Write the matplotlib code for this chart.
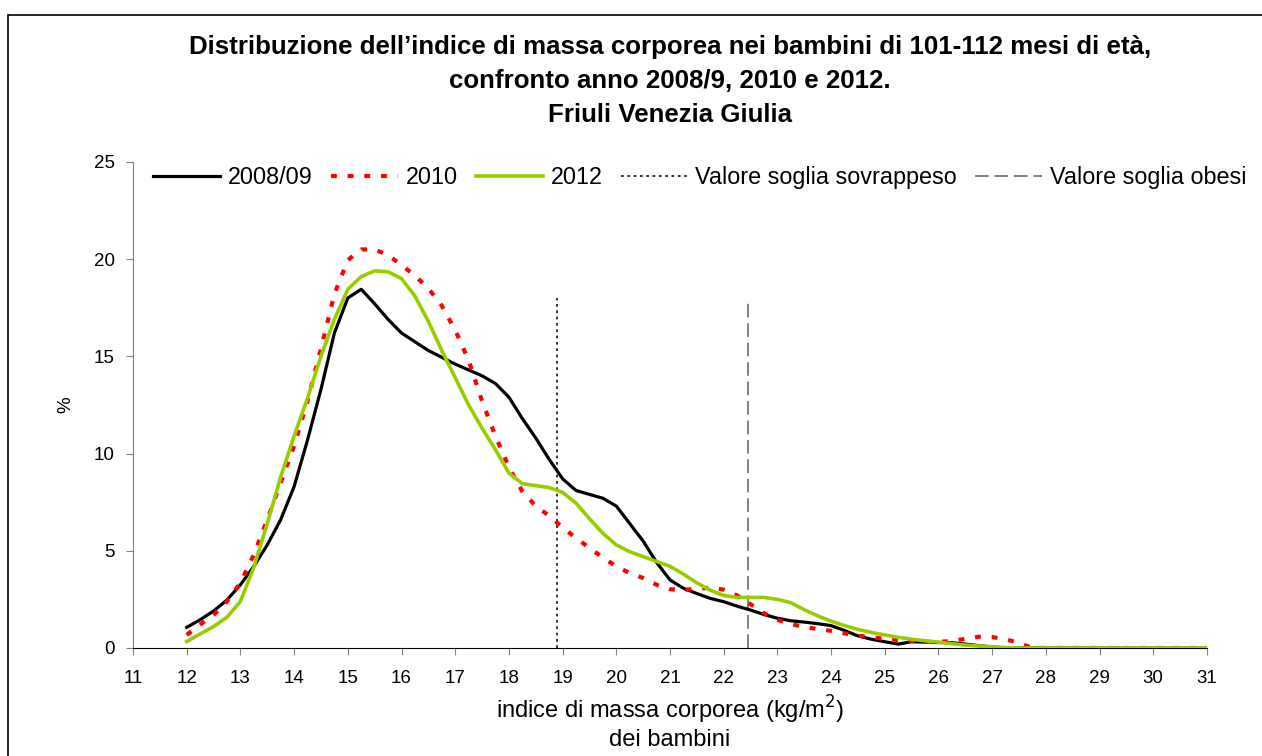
import matplotlib
matplotlib.use("Agg")
import matplotlib.pyplot as plt
from matplotlib.patches import Rectangle

plt.rcParams['font.family'] = ['Liberation Sans', 'DejaVu Sans']

# BMI classes (kg/m2), step 0.25 up to 27.75 then the flat tail
bmi = [12.0, 12.25, 12.5, 12.75, 13.0, 13.25, 13.5, 13.75, 14.0, 14.25, 14.5, 14.75,
       15.0, 15.25, 15.5, 15.75, 16.0, 16.25, 16.5, 16.75, 17.0, 17.25, 17.5, 17.75,
       18.0, 18.25, 18.5, 18.75, 19.0, 19.25, 19.5, 19.75, 20.0, 20.25, 20.5, 20.75,
       21.0, 21.25, 21.5, 21.75, 22.0, 22.25, 22.5, 22.75, 23.0, 23.25, 23.5, 23.75,
       24.0, 24.25, 24.5, 24.75, 25.0, 25.25, 25.5, 25.75, 26.0, 26.25, 26.5, 26.75,
       27.0, 27.25, 27.5, 27.75, 28.0, 29.0, 30.0, 31.0]

y2008 = [1.06, 1.45, 1.9, 2.47, 3.25, 4.2, 5.3, 6.6, 8.3, 10.7, 13.3, 16.2,
         18.0, 18.45, 17.7, 16.9, 16.2, 15.75, 15.3, 14.95, 14.6, 14.3, 14.0, 13.6,
         12.9, 11.8, 10.8, 9.7, 8.7, 8.1, 7.9, 7.7, 7.3, 6.4, 5.5, 4.4,
         3.5, 3.07, 2.8, 2.55, 2.38, 2.15, 1.95, 1.72, 1.53, 1.4, 1.33, 1.25,
         1.15, 0.9, 0.62, 0.45, 0.32, 0.2, 0.32, 0.3, 0.28, 0.27, 0.2, 0.12,
         0.05, 0.0, 0.0, 0.0, 0.0, 0.0, 0.0, 0.0]

y2010 = [0.67, 1.2, 1.7, 2.4, 3.35, 4.8, 6.6, 8.5, 10.4, 12.7, 15.4, 18.2,
         19.95, 20.5, 20.5, 20.2, 19.7, 19.15, 18.5, 17.6, 16.35, 14.8, 12.7, 10.9,
         9.3, 8.05, 7.3, 6.8, 6.2, 5.65, 5.15, 4.65, 4.2, 3.85, 3.6, 3.25,
         3.02, 2.98, 3.05, 3.1, 3.0, 2.7, 2.25, 1.78, 1.45, 1.23, 1.08, 0.97,
         0.88, 0.75, 0.63, 0.55, 0.47, 0.41, 0.36, 0.31, 0.31, 0.36, 0.47, 0.58,
         0.56, 0.45, 0.25, 0.0, 0.0, 0.0, 0.0, 0.0]

y2012 = [0.33, 0.72, 1.1, 1.58, 2.4, 4.15, 6.4, 8.8, 10.9, 12.85, 15.0, 16.9,
         18.45, 19.1, 19.4, 19.35, 19.0, 18.1, 16.8, 15.3, 13.9, 12.5, 11.3, 10.2,
         9.0, 8.45, 8.35, 8.25, 8.0, 7.45, 6.65, 5.9, 5.3, 4.95, 4.7, 4.45,
         4.2, 3.8, 3.35, 2.97, 2.7, 2.6, 2.6, 2.6, 2.5, 2.33, 1.97, 1.65,
         1.38, 1.15, 0.95, 0.8, 0.67, 0.55, 0.45, 0.37, 0.3, 0.22, 0.15, 0.1,
         0.06, 0.02, 0.0, 0.0, 0.0, 0.0, 0.0, 0.0]

soglia_sovrappeso = 18.89
soglia_obesi = 22.46
soglia_top = 18

fig = plt.figure(figsize=(12.62, 7.56), dpi=100)
ax = fig.add_axes([0.1054, 0.1429, 0.8510, 0.6429])

ax.plot(bmi, y2008, color='black', lw=2.3, label='2008/09', zorder=3)
ax.plot(bmi, y2010, color='#FF0000', lw=3.0, linestyle=(0, (1.4, 2.6)), label='2010', zorder=3)
ax.plot(bmi, y2012, color='#99CC00', lw=2.6, label='2012', zorder=4)
ax.plot([soglia_sovrappeso, soglia_sovrappeso], [0, soglia_top], color='#222222', lw=1.3,
        linestyle=(0, (1.5, 2)), label='Valore soglia sovrappeso', zorder=2)
ax.plot([soglia_obesi, soglia_obesi], [0, soglia_top], color='#808080', lw=1.4,
        linestyle=(0, (7, 3)), label='Valore soglia obesi', zorder=2)

ax.set_xlim(11, 31)
ax.set_ylim(0, 25)
ax.set_xticks(range(11, 32))
ax.set_yticks(range(0, 26, 5))
ax.spines['top'].set_visible(False)
ax.spines['right'].set_visible(False)
ax.spines['left'].set_color('#808080')
ax.spines['bottom'].set_color('black')
ax.tick_params(axis='both', direction='out', length=5, labelsize=13.5, colors='#808080',
               labelcolor='black')
ax.tick_params(axis='x', pad=11)
ax.tick_params(axis='y', pad=8)

ax.set_ylabel('%', fontsize=13.5, labelpad=14)
ax.set_xlabel('indice di massa corporea (kg/m$^{2}$)\ndei bambini', fontsize=17, labelpad=5,
              linespacing=1.15)

ax.set_title("Distribuzione dell\u2019indice di massa corporea nei bambini di 101-112 mesi di età,\n"
             "confronto anno 2008/9, 2010 e 2012.\nFriuli Venezia Giulia",
             fontsize=18.6, fontweight='bold', linespacing=1.52, pad=29)

ax.legend(loc='center left', bbox_to_anchor=(0.019, 0.967), ncol=5, frameon=False,
          fontsize=16.8, handlelength=2.85, handletextpad=0.35, columnspacing=0.78,
          borderaxespad=0, borderpad=0)

fig.patches.append(Rectangle((0.0063, -0.1), 1.2, 1.0808, transform=fig.transFigure,
                             fill=False, edgecolor='black', lw=1.2))

fig.savefig('out.png', dpi=100)
